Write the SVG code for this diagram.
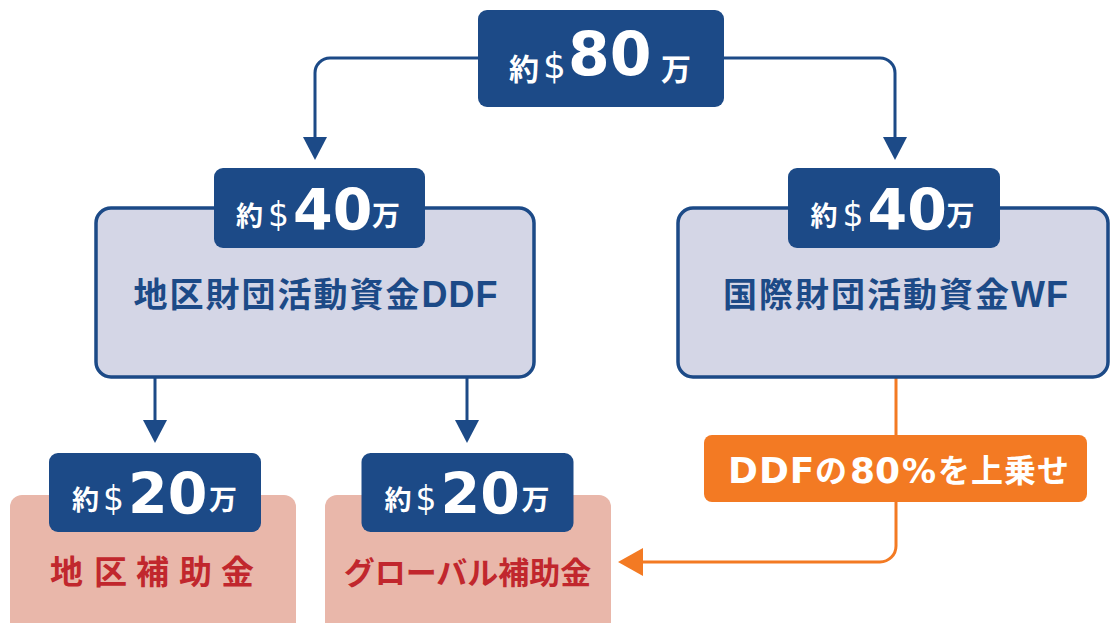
<svg xmlns="http://www.w3.org/2000/svg" width="1110" height="623" viewBox="0 0 1110 623">
<defs>
<style>
.lbl{fill:#1c4a87}
.fund{fill:#d4d6e6;stroke:#1c4a87;stroke-width:3.5}
.grant{fill:#e9b7aa}
.conn{fill:none;stroke:#1c4a87;stroke-width:3}
.oconn{fill:none;stroke:#f37a23;stroke-width:3}
.w{fill:#ffffff}
.cjk{font-family:"Noto Sans CJK JP",sans-serif;font-weight:700}
.num{font-family:"DejaVu Sans",sans-serif;font-weight:700}
.dol{font-family:"DejaVu Sans",sans-serif;font-weight:400}
.big{font-family:"Liberation Sans","Noto Sans CJK JP",sans-serif;font-weight:700;fill:#1c4a87}
.red{font-family:"Noto Sans CJK JP",sans-serif;font-weight:700;fill:#c1272d}
</style>
<marker id="ah" markerUnits="userSpaceOnUse" markerWidth="24" markerHeight="24" refX="0" refY="12" orient="auto" viewBox="0 0 24 24">
<path d="M0,0 L23,12 L0,24 z" fill="#1c4a87"/>
</marker>
<marker id="oh" markerUnits="userSpaceOnUse" markerWidth="26" markerHeight="28" refX="0" refY="14" orient="auto" viewBox="0 0 26 28">
<path d="M0,0 L25,14 L0,28 z" fill="#f37a23"/>
</marker>
</defs>

<g id="connectors">
<path class="conn" d="M478,58 H330 A15,15 0 0 0 315,73 V137" marker-end="url(#ah)"/>
<path class="conn" d="M724,58 H880 A15,15 0 0 1 895,73 V137" marker-end="url(#ah)"/>
<path class="conn" d="M155,377 V420" marker-end="url(#ah)"/>
<path class="conn" d="M467,377 V420" marker-end="url(#ah)"/>
<path class="oconn" d="M896,377 V546 A16,16 0 0 1 880,562 H643" marker-end="url(#oh)"/>
</g>

<g id="top">
<rect class="lbl" x="478" y="10" width="246" height="97" rx="9"/>
<text class="w"><tspan class="cjk" x="509" y="80" font-size="30">約</tspan><tspan class="dol" x="543" y="78" font-size="36">$</tspan><tspan class="num" x="568" y="75" font-size="60">80</tspan><tspan class="cjk" x="661" y="80" font-size="30">万</tspan></text>
</g>

<g id="ddf">
<rect class="fund" x="96" y="208" width="438" height="169" rx="15"/>
<rect class="lbl" x="214" y="168" width="211" height="80" rx="9"/>
<text class="w"><tspan class="cjk" x="236" y="226" font-size="27">約</tspan><tspan class="dol" x="268" y="226" font-size="33">$</tspan><tspan class="num" x="293" y="230" font-size="57">40</tspan><tspan class="cjk" x="372" y="226" font-size="28">万</tspan></text>
<text class="big" x="316" y="307" text-anchor="middle"><tspan font-size="34" letter-spacing="2">地区財団活動資金</tspan><tspan font-size="36" letter-spacing="1">DDF</tspan></text>
</g>

<g id="wf">
<rect class="fund" x="678" y="208" width="430" height="169" rx="15"/>
<rect class="lbl" x="788" y="168" width="212" height="80" rx="9"/>
<text class="w"><tspan class="cjk" x="810.5" y="226" font-size="27">約</tspan><tspan class="dol" x="842.5" y="226" font-size="33">$</tspan><tspan class="num" x="867.5" y="230" font-size="57">40</tspan><tspan class="cjk" x="946.5" y="226" font-size="28">万</tspan></text>
<text class="big" x="896" y="307" text-anchor="middle"><tspan font-size="34" letter-spacing="2">国際財団活動資金</tspan><tspan font-size="36" letter-spacing="1">WF</tspan></text>
</g>

<g id="district-grant">
<rect class="grant" x="10" y="495" width="286" height="140" rx="12"/>
<rect class="lbl" x="49" y="453" width="212" height="79" rx="9"/>
<text class="w"><tspan class="cjk" x="72" y="510" font-size="27">約</tspan><tspan class="dol" x="103" y="510" font-size="33">$</tspan><tspan class="num" x="128" y="514" font-size="57">20</tspan><tspan class="cjk" x="209" y="510" font-size="28">万</tspan></text>
<text class="red" x="50 83 94 126 136 169 179 211 221" y="584" font-size="33">地 区 補 助 金</text>
</g>

<g id="global-grant">
<rect class="grant" x="325" y="495" width="286" height="140" rx="12"/>
<rect class="lbl" x="361.5" y="453" width="212" height="79" rx="9"/>
<text class="w"><tspan class="cjk" x="384.5" y="510" font-size="27">約</tspan><tspan class="dol" x="415.5" y="510" font-size="33">$</tspan><tspan class="num" x="440.5" y="514" font-size="57">20</tspan><tspan class="cjk" x="521.5" y="510" font-size="28">万</tspan></text>
<text class="red" x="467.5" y="584" font-size="31" text-anchor="middle">グローバル補助金</text>
</g>

<g id="bonus">
<rect x="704" y="435" width="383" height="67" rx="8" fill="#f37a23"/>
<text class="w"><tspan class="num" x="728" y="483" font-size="36" letter-spacing="1">DDF</tspan><tspan class="cjk" x="815" y="482" font-size="32">の</tspan><tspan class="num" x="850" y="483" font-size="36">80</tspan><tspan class="num" x="902" y="483" font-size="34">%</tspan><tspan class="cjk" x="938" y="482" font-size="32" letter-spacing="1">を上乗せ</tspan></text>
</g>
</svg>
